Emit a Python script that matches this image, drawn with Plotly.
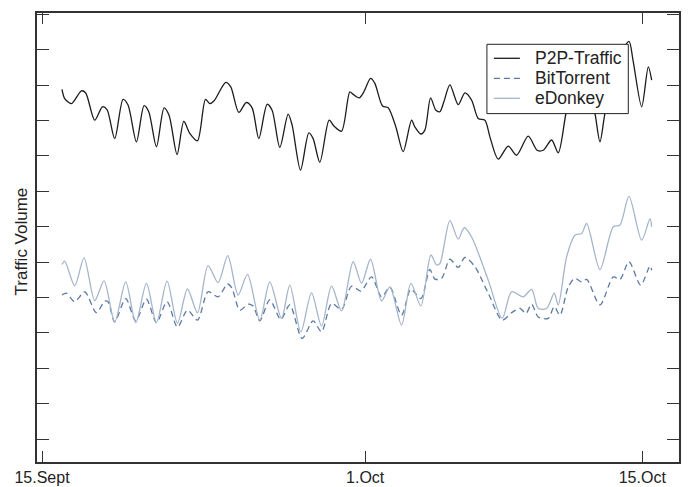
import plotly.graph_objects as go

# time in days after 15 Sept
p2p_day = [1.00, 1.135, 1.47, 1.97, 2.185, 2.635, 3.02, 3.25, 3.635, 4.05, 4.30, 4.72, 5.10, 5.335,
           5.72, 6.10, 6.35, 6.75, 7.085, 7.385, 7.77, 8.17, 8.385, 8.60, 9.185, 9.435, 9.835, 10.21,
           10.50, 10.835, 11.25, 11.50, 11.885, 12.30, 12.50, 12.92, 13.335, 13.55, 13.885, 14.35,
           14.60, 14.97, 15.385, 15.55, 15.85, 16.085, 16.42, 16.635, 17.02, 17.30, 17.685, 18.05,
           18.47, 18.635, 18.935, 19.135, 19.42, 19.685, 19.885, 20.085, 20.385, 20.80, 21.135,
           21.47, 21.80, 22.135, 22.385, 22.80, 23.30, 23.72, 24.30, 24.75, 25.05, 25.47, 25.80,
           26.185, 26.635, 26.985, 27.385, 27.635, 27.885, 28.135, 28.785, 29.335, 29.535, 29.97,
           30.30, 30.47]
p2p_val = [9.88, 9.62, 9.48, 9.84, 9.78, 9.01, 9.39, 9.31, 8.49, 9.60, 9.44, 8.40, 9.42, 9.25,
           8.26, 9.36, 9.15, 8.04, 8.98, 8.64, 8.43, 9.60, 9.48, 9.56, 10.08, 9.95, 9.23, 9.51,
           9.36, 8.49, 9.46, 9.29, 8.24, 9.18, 8.87, 7.60, 8.65, 8.49, 7.82, 9.01,
           8.84, 8.70, 9.81, 9.74, 9.64, 9.81, 10.19, 10.05, 9.41, 9.36, 8.82, 8.12,
           9.01, 8.82, 8.62, 8.73, 9.64, 9.29, 9.25, 9.53, 10.01, 9.45, 9.78,
           9.58, 9.06, 9.01, 8.54, 7.91, 8.28, 8.02, 8.56, 8.16, 8.16, 8.45, 8.09,
           9.20, 10.28, 10.42, 9.72, 9.20, 8.40, 9.20, 10.71, 11.24, 10.71, 9.39,
           10.52, 10.14]

bt_day = [1.00, 1.22, 1.635, 2.135, 2.72, 3.135, 3.30, 3.635, 4.185, 4.685, 5.22, 5.72, 6.25, 6.77,
          7.27, 7.77, 8.30, 8.80, 9.27, 9.485, 9.885, 10.30, 10.55, 10.885, 11.385, 11.935, 12.385,
          13.00, 13.55, 13.97, 14.47, 14.97, 15.47, 15.935, 16.47, 16.97, 17.385, 17.97, 18.435,
          18.935, 19.385, 19.635, 19.97, 20.385, 20.80, 21.135, 21.635, 22.30, 23.00, 23.47, 23.885,
          24.185, 24.47, 24.80, 25.30, 25.60, 25.885, 26.30, 26.635, 26.97, 27.22, 27.885, 28.55,
          28.885, 29.335, 29.92, 30.385, 30.47]
bt_val = [4.07, 4.12, 3.88, 4.16, 3.57, 3.90, 3.88, 3.31, 3.97, 3.34, 3.95, 3.29, 3.88, 3.16,
          3.64, 3.36, 4.16, 4.02, 4.38, 4.27, 3.64, 3.81, 3.76, 3.34, 3.93, 3.38, 3.79,
          2.84, 3.34, 3.03, 3.83, 3.66, 4.32, 4.18, 4.58, 4.02, 4.29, 3.50, 4.23,
          3.97, 4.79, 4.52, 4.54, 5.08, 4.85, 5.13, 4.87, 4.12, 3.36, 3.57, 3.69,
          3.55, 3.81, 3.45, 3.41, 3.74, 3.50, 4.30, 4.54, 4.44, 4.51, 3.79, 4.58,
          4.51, 5.01, 4.35, 4.89, 4.77]

ed_day = [1.00, 1.135, 1.635, 2.10, 2.635, 3.10, 3.635, 4.185, 4.685, 5.22, 5.72, 6.25, 6.77, 7.27,
          7.77, 8.30, 8.80, 9.285, 9.80, 10.27, 10.885, 11.385, 11.97, 12.385, 12.935, 13.47, 13.97,
          14.47, 14.97, 15.55, 15.97, 16.42, 16.97, 17.385, 17.97, 18.435, 18.935, 19.435, 19.72,
          19.885, 20.385, 20.80, 21.10, 21.47, 22.30, 23.00, 23.47, 24.05, 24.47, 24.80, 25.22,
          25.60, 25.80, 26.22, 26.635, 26.97, 27.22, 27.885, 28.55, 28.885, 29.335, 29.97, 30.385,
          30.47]
ed_val = [4.93, 5.03, 4.33, 5.12, 3.91, 4.47, 3.31, 4.44, 3.29, 4.40, 3.29, 4.46, 3.27, 4.24,
          3.57, 4.90, 4.42, 5.18, 4.07, 4.65, 3.36, 4.44, 3.41, 4.35, 3.03, 4.13, 3.19,
          4.32, 3.62, 5.01, 4.40, 5.08, 3.90, 4.30, 3.22, 4.40, 3.76, 5.20, 4.92,
          4.96, 6.17, 5.65, 5.97, 5.71, 4.49, 3.41, 4.16, 4.02, 4.23, 3.69, 3.69,
          4.12, 3.79, 5.15, 5.76, 5.81, 6.09, 4.79, 6.00, 6.05, 6.86, 5.62, 6.23,
          6.00]

tick_days = [0, 16.15, 30]
tick_text = ["15.Sept", "1.Oct", "15.Oct"]

series_names = ["P2P-Traffic", "BitTorrent", "eDonkey"]
series_colors = ["#1c1c1c", "#5b7aa3", "#a5b5ca"]
series_dash = ["solid", "6px,4px", "solid"]

FONT = "Liberation Sans, Arial, Helvetica, sans-serif"
AXC = "#333333"
TXT = "#222222"

fig = go.Figure()
for xs, ys, nm, col, ds in zip([p2p_day, bt_day, ed_day], [p2p_val, bt_val, ed_val],
                               series_names, series_colors, series_dash):
    fig.add_trace(go.Scatter(x=xs, y=ys, mode="lines", name=nm, showlegend=False,
                             line=dict(color=col, width=1.3, dash=ds, shape="spline", smoothing=0.8)))

# legend drawn as a boxed key (paper coordinates)
shapes = [dict(type="rect", xref="paper", yref="paper", x0=0.7008, x1=0.9210, y0=0.7759, y1=0.9303,
               fillcolor="white", line=dict(color=TXT, width=1), layer="above")]
annotations = []
row_y = [0.8991, 0.8546, 0.8100]
for ry, nm, col, ds in zip(row_y, series_names, series_colors, series_dash):
    shapes.append(dict(type="line", xref="paper", yref="paper", x0=0.7117, x1=0.7522, y0=ry, y1=ry,
                       line=dict(color=col, width=1.3, dash=ds), layer="above"))
    annotations.append(dict(xref="paper", yref="paper", x=0.7725, y=ry, xanchor="left", yanchor="middle",
                            text=nm, showarrow=False, font=dict(size=17.5, family=FONT, color=TXT)))
annotations.append(dict(xref="paper", yref="paper", x=-0.024, y=0.4904, xanchor="center", yanchor="middle",
                        text="Traffic Volume", textangle=-90, showarrow=False,
                        font=dict(size=17, family=FONT, color=TXT)))

fig.update_layout(
    width=688, height=487,
    margin=dict(l=37, r=9, t=13, b=25),
    paper_bgcolor="white", plot_bgcolor="white",
    font=dict(family=FONT, size=16, color=TXT),
    showlegend=False,
    shapes=shapes, annotations=annotations,
    xaxis=dict(range=[-0.25, 31.835], tickmode="array", tickvals=tick_days, ticktext=tick_text,
               showgrid=False, zeroline=False, showline=True, linecolor=AXC, linewidth=1.5,
               mirror="ticks", ticks="inside", ticklen=11, tickcolor=AXC, tickwidth=1,
               automargin=False, tickfont=dict(size=16, family=FONT, color=TXT)),
    yaxis=dict(range=[-0.65, 12.04], tickmode="linear", tick0=0, dtick=1, showticklabels=False,
               showgrid=False, zeroline=False, showline=True, linecolor=AXC, linewidth=1.5,
               mirror="ticks", ticks="inside", ticklen=12, tickcolor=AXC, tickwidth=1,
               automargin=False),
)

fig.write_html("out.html", config={"displayModeBar": False},
               post_script="document.body.style.margin='0px';document.body.style.overflow='hidden';")
